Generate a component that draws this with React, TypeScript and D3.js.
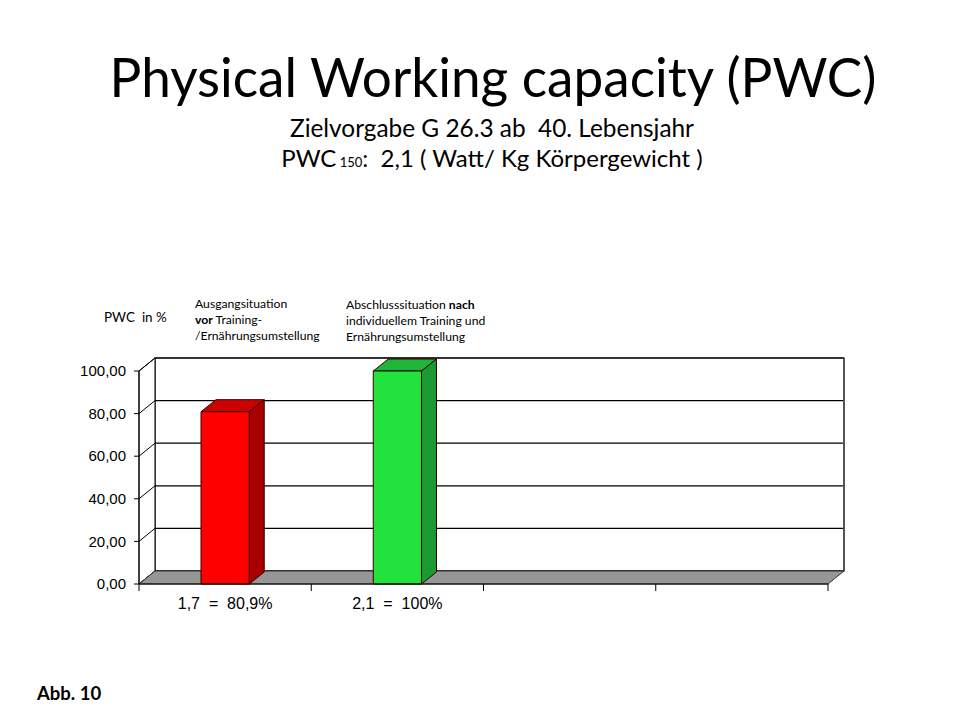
import React from "react";
import * as d3 from "d3";

const categories = ["1,7  =  80,9%", "2,1  =  100%", "", ""];
const values: (number | null)[] = [80.9, 100, null, null];
const frontColors = ["#FF0000", "#22E33E", "", ""];
const sideColors = ["#A80000", "#1A9A30", "", ""];
const topColors = ["#CC0000", "#1DB636", "", ""];
const yTicks = [0, 20, 40, 60, 80, 100];

const W = 960;
const H = 720;
const left = 139;
const right = 828;
const bottom = 584;
const top = 371;
const DX = 16;
const DY = -13;
const BDX = 15;
const BDY = -12;

const SANS = "Lato, 'Open Sans', sans-serif";
const ARIAL = "'Liberation Sans', Arial, sans-serif";

export default function App() {
  const x = d3.scaleBand<number>().domain(d3.range(categories.length)).range([left, right]);
  const y = d3.scaleLinear().domain([0, 100]).range([bottom, top]);
  const fmt = (v: number) => d3.format(".2f")(v).replace(".", ",");
  const bw = x.bandwidth() * 0.28;

  const pts = (arr: [number, number][]) => arr.map((p) => p.join(",")).join(" ");

  return (
    <svg width={W} height={H} style={{ display: "block", position: "absolute", left: 0, top: 0, background: "#fff" }}>
      {/* Title */}
      <text x={493} y={97} textAnchor="middle" fontFamily={SANS} fontSize={54} textLength={767} lengthAdjust="spacingAndGlyphs">
        Physical Working capacity (PWC)
      </text>
      <text x={492} y={137} textAnchor="middle" fontFamily={SANS} fontSize={25} textLength={404} lengthAdjust="spacingAndGlyphs" style={{ whiteSpace: "pre" }}>
        {"Zielvorgabe G 26.3 ab  40. Lebensjahr"}
      </text>
      <text x={492} y={167} textAnchor="middle" fontFamily={SANS} fontSize={24} style={{ whiteSpace: "pre" }}>
        <tspan>PWC</tspan>
        <tspan fontSize={13}> 150</tspan>
        <tspan>:  2,1 ( Watt/ Kg Körpergewicht )</tspan>
      </text>

      {/* Annotations */}
      <text x={104} y={322} fontFamily={SANS} fontSize={13.5} style={{ whiteSpace: "pre" }}>
        {"PWC  in %"}
      </text>
      <g fontFamily={SANS} fontSize={12.2}>
        <text x={195} y={308}>Ausgangsituation</text>
        <text x={195} y={324}>
          <tspan fontWeight="bold">vor</tspan> Training-
        </text>
        <text x={195} y={340}>/Ernährungsumstellung</text>
        <text x={346} y={309}>
          Abschlusssituation <tspan fontWeight="bold">nach</tspan>
        </text>
        <text x={346} y={325}>individuellem Training und</text>
        <text x={346} y={341}>Ernährungsumstellung</text>
      </g>

      {/* Back wall */}
      <rect x={left + DX} y={top + DY} width={right - left} height={bottom - top} fill="#fff" stroke="#000" strokeWidth={1.2} />
      {/* Left wall */}
      <polygon
        points={pts([
          [left, bottom],
          [left, top],
          [left + DX, top + DY],
          [left + DX, bottom + DY],
        ])}
        fill="#fff"
        stroke="#000"
        strokeWidth={1}
      />
      {/* Gridlines */}
      {yTicks.map((t) => (
        <g key={t}>
          <line x1={left + DX} x2={right + DX} y1={y(t) + DY} y2={y(t) + DY} stroke="#000" strokeWidth={1.2} />
          <line x1={left} x2={left + DX} y1={y(t)} y2={y(t) + DY} stroke="#000" strokeWidth={1} />
        </g>
      ))}
      {/* right wall edge */}
      <line x1={right + DX} x2={right + DX} y1={top + DY} y2={bottom + DY} stroke="#555" strokeWidth={2} />

      {/* Floor */}
      <polygon
        points={pts([
          [left, bottom],
          [left + DX, bottom + DY],
          [right + DX, bottom + DY],
          [right, bottom],
        ])}
        fill="#969696"
        stroke="#333"
        strokeWidth={1}
      />

      {/* Bars */}
      {values.map((v, i) => {
        if (v == null) return null;
        const cx = (x(i) as number) + x.bandwidth() / 2;
        const x0 = cx - bw / 2;
        const x1 = cx + bw / 2;
        const yt = y(v);
        return (
          <g key={i} stroke="#300" strokeWidth={1} strokeLinejoin="round">
            <polygon
              points={pts([
                [x0, yt],
                [x0 + BDX, yt + BDY],
                [x1 + BDX, yt + BDY],
                [x1, yt],
              ])}
              fill={topColors[i]}
            />
            <polygon
              points={pts([
                [x1, yt],
                [x1 + BDX, yt + BDY],
                [x1 + BDX, bottom + BDY],
                [x1, bottom],
              ])}
              fill={sideColors[i]}
            />
            <rect x={x0} y={yt} width={bw} height={bottom - yt} fill={frontColors[i]} />
          </g>
        );
      })}

      {/* Axes */}
      <line x1={left} x2={left} y1={top} y2={bottom} stroke="#000" strokeWidth={1} />
      <line x1={left} x2={right} y1={bottom} y2={bottom} stroke="#000" strokeWidth={1} />
      {yTicks.map((t) => (
        <g key={"yt" + t}>
          <line x1={left - 5} x2={left} y1={y(t)} y2={y(t)} stroke="#000" />
          <text x={126} y={y(t)} dy="0.35em" textAnchor="end" fontFamily={ARIAL} fontSize={15}>
            {fmt(t)}
          </text>
        </g>
      ))}
      {d3.range(categories.length + 1).map((i) => {
        const xx = i < categories.length ? (x(i) as number) : right;
        return <line key={"xt" + i} x1={xx} x2={xx} y1={bottom} y2={bottom + 7} stroke="#000" />;
      })}
      {categories.map((c, i) => (
        <text
          key={"cl" + i}
          x={(x(i) as number) + x.bandwidth() / 2}
          y={609}
          textAnchor="middle"
          fontFamily={ARIAL}
          fontSize={16}
          style={{ whiteSpace: "pre" }}
        >
          {c}
        </text>
      ))}

      <text x={37} y={700} fontFamily={SANS} fontSize={18.5} fontWeight="bold">
        Abb. 10
      </text>
    </svg>
  );
}
